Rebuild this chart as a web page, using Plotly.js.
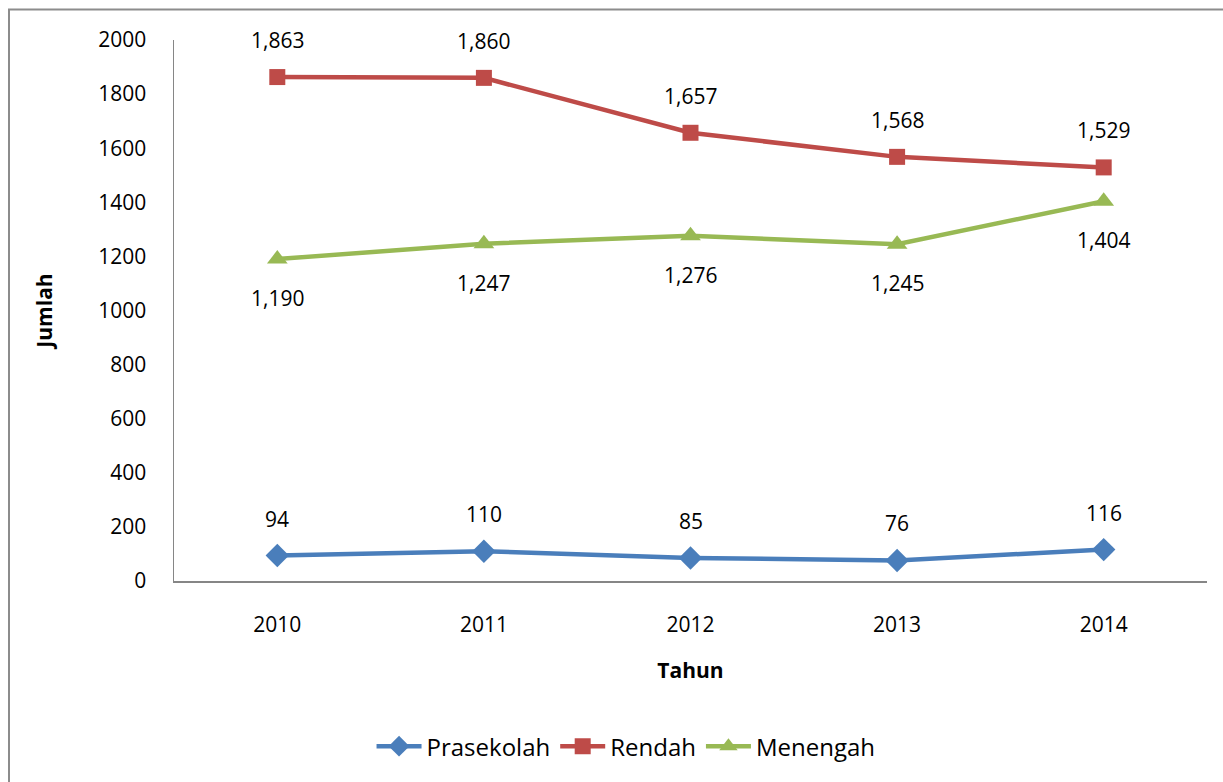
<!DOCTYPE html>
<html>
<head>
<meta charset="utf-8">
<script src="https://cdn.plot.ly/plotly-3.0.1.min.js"></script>
<style>html,body{margin:0;padding:0;background:#fff;}#chart{width:1223px;height:782px;}</style>
</head>
<body>
<div id="chart"></div>
<script>
const years = ['2010', '2011', '2012', '2013', '2014'];
const prasekolah = [94, 110, 85, 76, 116];
const rendah = [1863, 1860, 1657, 1568, 1529];
const menengah = [1190, 1247, 1276, 1245, 1404];
const yTicks = [0, 200, 400, 600, 800, 1000, 1200, 1400, 1600, 1800, 2000];

const FONT = 'Open Sans, Liberation Sans, sans-serif';
const FS = 21;
const series = [
  {name: 'Prasekolah', y: prasekolah, color: '#4a7ebb', symbol: 'diamond', size: 18, shift: 37},
  {name: 'Rendah', y: rendah, color: '#be4b48', symbol: 'square', size: 16, shift: 37},
  {name: 'Menengah', y: menengah, color: '#98b954', symbol: 'triangle-up', size: 18, shift: -39}
];

const traces = series.map(s => ({
  type: 'scatter', mode: 'lines+markers', name: s.name, x: years, y: s.y,
  line: {color: s.color, width: 4.5},
  marker: {color: s.color, symbol: s.symbol, size: s.size, line: {width: 0}},
  cliponaxis: false
}));

const annotations = [];
series.forEach(s => {
  s.y.forEach((v, i) => {
    annotations.push({x: i, y: v, xref: 'x', yref: 'y', text: v.toLocaleString('en-US'),
      showarrow: false, yshift: s.shift, font: {family: FONT, size: FS, color: '#000'}});
  });
});

const layout = {
  width: 1223, height: 782,
  margin: {l: 174, r: 16, t: 40, b: 201},
  paper_bgcolor: '#fff', plot_bgcolor: '#fff',
  font: {family: FONT, size: FS, color: '#000'},
  showlegend: true,
  legend: {orientation: 'h', x: 0.4376, xanchor: 'center', y: -0.306, yanchor: 'middle',
    font: {family: FONT, size: 24, color: '#000'}, traceorder: 'normal', itemwidth: 45},
  xaxis: {type: 'category', range: [-0.5, 4.5], showgrid: false, zeroline: false,
    showline: true, linecolor: '#868686', linewidth: 1.5, ticks: '', ticklabelstandoff: 24,
    title: {text: '<b>Tahun</b>', standoff: 26, font: {family: FONT, size: FS, color: '#000'}}},
  yaxis: {range: [0, 2000], tickvals: yTicks, ticktext: yTicks.map(String), showgrid: false, zeroline: false,
    showline: true, linecolor: '#868686', linewidth: 1.5, ticks: '', ticklabelstandoff: 22,
    title: {text: '<b>Jumlah</b>', standoff: 40, font: {family: FONT, size: FS, color: '#000'}}},
  annotations: annotations,
  shapes: [{type: 'rect', xref: 'paper', yref: 'paper',
    x0: (9 - 174) / 1033, x1: (1240 - 174) / 1033, y0: (581 - 800) / 541, y1: (581 - 9.5) / 541,
    line: {color: '#8c8c8c', width: 2}, fillcolor: 'rgba(0,0,0,0)', layer: 'below'}]
};

Plotly.newPlot('chart', traces, layout, {displayModeBar: false, staticPlot: true});
</script>
</body>
</html>
